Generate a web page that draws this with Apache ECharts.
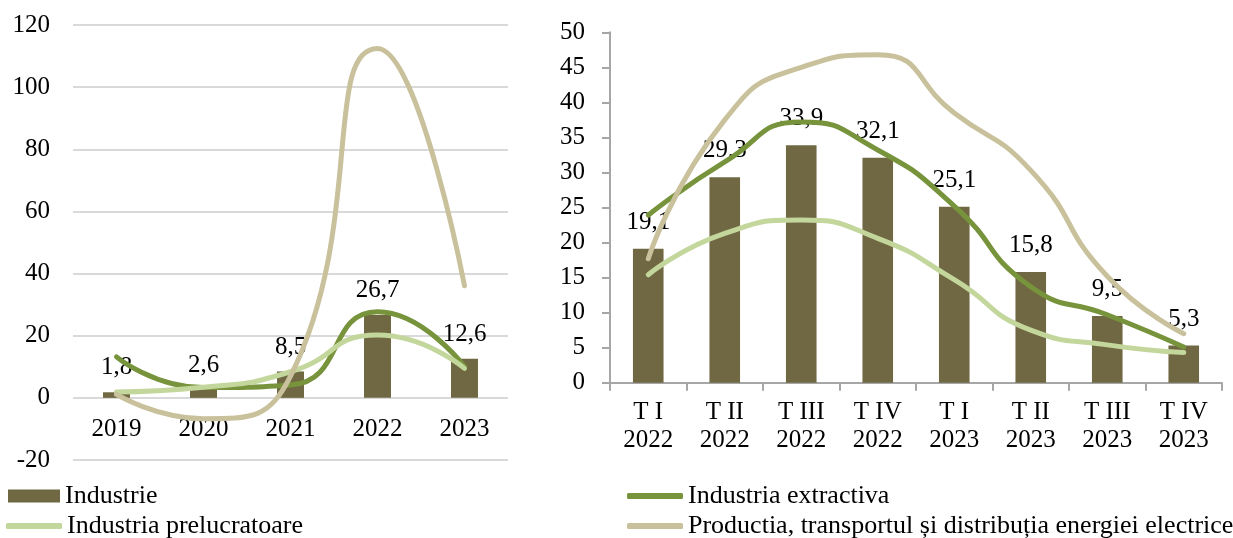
<!DOCTYPE html>
<html>
<head>
<meta charset="utf-8">
<script src="https://cdn.jsdelivr.net/npm/echarts@6/dist/echarts.min.js"></script>
<style>
html,body{margin:0;padding:0;background:#fff;}
#c{width:1233px;height:538px;}
</style>
</head>
<body>
<div id="c"></div>
<script>
// ---- Data ----
const seriesNames = ['Industrie', 'Industria extractiva', 'Industria prelucratoare',
  'Productia, transportul și distribuția energiei electrice'];

// Left panel (annual)
const yearCategories = ['2019', '2020', '2021', '2022', '2023'];
const yearIndustrie = [1.8, 2.6, 8.5, 26.7, 12.6];
const yearExtractiva = [13.2, 3.3, 4.1, 27.7, 10.0];
const yearPrelucratoare = [1.9, 3.4, 8.4, 20.2, 9.5];
const yearEnergie = [1.1, -6.7, 7.0, 112.4, 36.1];
const leftTicks = { min: -20, max: 120, interval: 20 };

// Right panel (quarterly)
const quarterCategories = ['T I\n2022', 'T II\n2022', 'T III\n2022', 'T IV\n2022',
  'T I\n2023', 'T II\n2023', 'T III\n2023', 'T IV\n2023'];
const quarterIndustrie = [19.1, 29.3, 33.9, 32.1, 25.1, 15.8, 9.5, 5.3];
const quarterExtractiva = [23.9, 31.5, 37.2, 33.2, 25.2, 13.7, 9.7, 5.1];
const quarterPrelucratoare = [15.4, 21.3, 23.2, 20.6, 14.7, 7.5, 5.4, 4.3];
const quarterEnergie = [17.7, 37.5, 45.0, 46.8, 38.5, 30.3, 15.2, 7.0];
const rightTicks = { min: 0, max: 50, interval: 5 };

// ---- Styles ----
const FONT = '"Liberation Serif", "DejaVu Serif", serif';
const FS = 25;
const C_BAR = '#6F6842';
const C_EXT = '#77933C';
const C_PRE = '#C3D69B';
const C_ENE = '#C9C19C';
const colorOf = [C_BAR, C_EXT, C_PRE, C_ENE];

const fmt = p => p.value.toFixed(1).replace('.', ',');

function barSeries(data, xi, width, dist) {
  return {
    name: seriesNames[0], type: 'bar', xAxisIndex: xi, yAxisIndex: xi,
    data: data, barWidth: width, itemStyle: { color: C_BAR },
    label: { show: true, position: 'top', distance: dist, formatter: fmt,
      fontFamily: FONT, fontSize: FS, color: '#000' },
    emphasis: { disabled: true }
  };
}
function lineSeries(idx, data, xi) {
  return {
    name: seriesNames[idx], type: 'line', xAxisIndex: xi, yAxisIndex: xi,
    data: data, smooth: 0.55, symbol: 'none', z: 3,
    lineStyle: { color: colorOf[idx], width: 5, cap: 'round', join: 'round' },
    itemStyle: { color: colorOf[idx] },
    emphasis: { disabled: true }
  };
}

function legendFor(idx, left, top, isBar) {
  return {
    data: [{ name: seriesNames[idx], icon: isBar ? 'rect' : 'roundRect',
      itemStyle: { color: colorOf[idx], borderWidth: 0 } }],
    left: left, top: top, padding: 0,
    itemWidth: isBar ? 52 : 56, itemHeight: isBar ? 13 : 6,
    selectedMode: false,
    textStyle: { fontFamily: FONT, fontSize: 26, color: '#000', lineHeight: 28 }
  };
}

// left grid geometry: zero sits 20/140 of the height above the bottom
const LEFT_H = 435;
const zeroOffset = -LEFT_H * (0 - leftTicks.min) / (leftTicks.max - leftTicks.min);

const chart = echarts.init(document.getElementById('c'), null, { renderer: 'canvas' });
chart.setOption({
  animation: false,
  backgroundColor: '#fff',
  legend: [
    legendFor(0, 8, 482, true),
    legendFor(2, 6, 512, false),
    legendFor(1, 627, 482, false),
    legendFor(3, 627, 512, false)
  ],
  grid: [
    { left: 73, top: 25, width: 435, height: LEFT_H, containLabel: false },
    { left: 610, top: 32.3, width: 612, height: 350.4, containLabel: false }
  ],
  xAxis: [
    { type: 'category', gridIndex: 0, data: yearCategories, offset: zeroOffset,
      axisLine: { show: false, onZero: false },
      axisTick: { show: false },
      axisLabel: { fontFamily: FONT, fontSize: FS, color: '#000', margin: 19 } },
    { type: 'category', gridIndex: 1, data: quarterCategories,
      axisLine: { show: true, lineStyle: { color: '#A6A6A6', width: 2 } },
      axisTick: { show: true, length: 8, lineStyle: { color: '#A6A6A6', width: 2 } },
      axisLabel: { fontFamily: FONT, fontSize: FS, color: '#000', margin: 16, lineHeight: 28 } }
  ],
  yAxis: [
    { type: 'value', gridIndex: 0, min: leftTicks.min, max: leftTicks.max, interval: leftTicks.interval,
      axisLine: { show: false }, axisTick: { show: false },
      splitLine: { show: true, lineStyle: { color: '#D9D9D9', width: 2 } },
      axisLabel: { fontFamily: FONT, fontSize: FS, color: '#000', margin: 23 } },
    { type: 'value', gridIndex: 1, min: rightTicks.min, max: rightTicks.max, interval: rightTicks.interval,
      axisLine: { show: true, lineStyle: { color: '#A6A6A6', width: 2 } },
      axisTick: { show: true, length: 8, lineStyle: { color: '#A6A6A6', width: 2 } },
      splitLine: { show: false },
      axisLabel: { fontFamily: FONT, fontSize: FS, color: '#000', margin: 25 } }
  ],
  series: [
    barSeries(yearIndustrie, 0, '31%', 12),
    lineSeries(1, yearExtractiva, 0),
    lineSeries(2, yearPrelucratoare, 0),
    lineSeries(3, yearEnergie, 0),
    barSeries(quarterIndustrie, 1, '40%', 14),
    lineSeries(1, quarterExtractiva, 1),
    lineSeries(2, quarterPrelucratoare, 1),
    lineSeries(3, quarterEnergie, 1)
  ]
});
</script>
</body>
</html>
